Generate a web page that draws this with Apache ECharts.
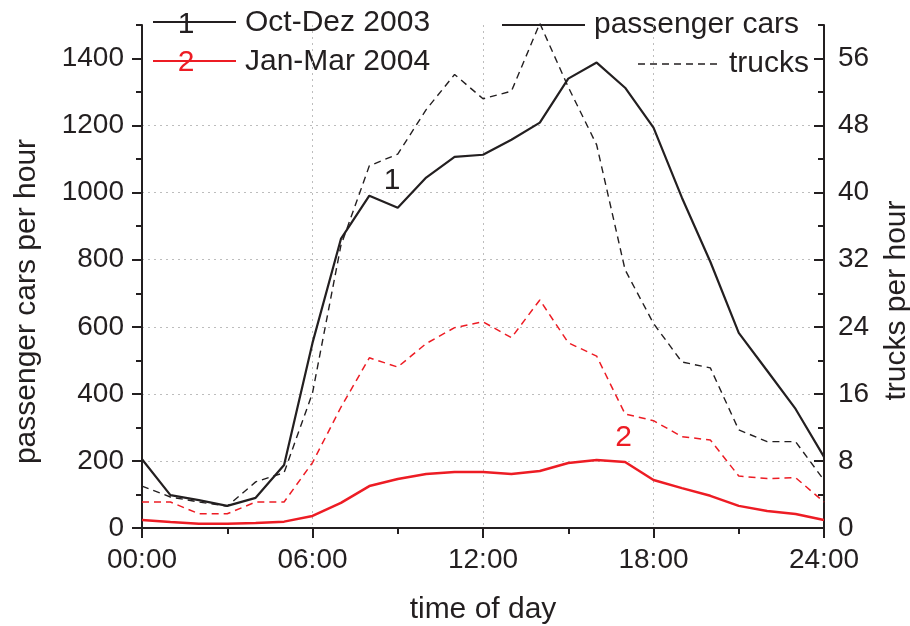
<!DOCTYPE html>
<html>
<head>
<meta charset="utf-8">
<script src="https://cdn.jsdelivr.net/npm/echarts@6/dist/echarts.min.js"></script>
<style>
  html, body { margin: 0; padding: 0; background: #fff; }
  #chart { width: 910px; height: 626px; }
</style>
</head>
<body>
<div id="chart"></div>
<script>
// hour of day
const hours = [0, 1, 2, 3, 4, 5, 6, 7, 8, 9, 10, 11, 12, 13, 14, 15, 16, 17, 18, 19, 20, 21, 22, 23, 24]
// passenger cars per hour (left axis)
const carsOctDez = [205, 98, 83, 66, 90, 188, 552, 862, 991, 955, 1045, 1107, 1113, 1158, 1209, 1340, 1388, 1313, 1194, 985, 794, 582, 469, 355, 212]
const carsJanMar = [24, 18, 13, 13, 15, 19, 36, 75, 125, 146, 161, 167, 167, 161, 170, 194, 203, 197, 143, 119, 96, 66, 51, 42, 24]
// trucks per hour (right axis)
const trucksOctDez = [5.0, 3.7, 3.1, 2.6, 5.5, 6.6, 16.1, 33.7, 43.2, 44.6, 49.9, 54.1, 51.2, 52.1, 60.2, 52.6, 45.7, 30.8, 24.4, 19.8, 19.1, 11.7, 10.3, 10.3, 5.7]
const trucksJanMar = [3.1, 3.1, 1.7, 1.7, 3.1, 3.1, 7.8, 14.4, 20.3, 19.2, 22.0, 23.9, 24.6, 22.7, 27.2, 22.1, 20.5, 13.6, 12.8, 10.9, 10.5, 6.2, 5.9, 6.0, 3.1]

const leftMajor = [0, 200, 400, 600, 800, 1000, 1200, 1400]
const rightMajor = [0, 8, 16, 24, 32, 40, 48, 56]

const BLACK = '#231f20'
const RED = '#ed1c24'
const FONT = 'Liberation Sans, Arial, Helvetica, sans-serif'

const pair = (ys) => hours.map((h, i) => [h, ys[i]])

const chart = echarts.init(document.getElementById('chart'))

const gridLine = {
  show: true,
  showMinLine: false,
  showMaxLine: false,
  lineStyle: { color: '#bdbdbd', type: [2, 4], width: 1 }
}

chart.setOption({
  animation: false,
  textStyle: { fontFamily: FONT },
  grid: { left: 142, right: 86, top: 25, bottom: 98, outerBoundsMode: 'none', containLabel: false },
  xAxis: {
    type: 'value',
    min: 0,
    max: 24,
    interval: 6,
    name: 'time of day',
    nameLocation: 'middle',
    nameGap: 67,
    nameTextStyle: { fontSize: 30, color: BLACK },
    axisLine: { lineStyle: { color: BLACK, width: 2 } },
    axisTick: { length: 10, lineStyle: { color: BLACK, width: 2 } },
    minorTick: { show: true, splitNumber: 2, length: 6, lineStyle: { color: BLACK, width: 2 } },
    axisLabel: {
      fontSize: 28,
      color: BLACK,
      margin: 18,
      formatter: (v) => String(v).padStart(2, '0') + ':00'
    },
    splitLine: gridLine
  },
  yAxis: [
    {
      type: 'value',
      position: 'left',
      min: 0,
      max: 1500,
      interval: 200,
      name: 'passenger cars per hour',
      nameLocation: 'middle',
      nameGap: 100,
      nameTextStyle: { fontSize: 30, color: BLACK, padding: [0, 50, 0, 0] },
      axisLine: { show: true, lineStyle: { color: BLACK, width: 2 } },
      axisTick: { show: true, length: 10, customValues: leftMajor, lineStyle: { color: BLACK, width: 2 } },
      axisLabel: { fontSize: 28, color: BLACK, margin: 18, customValues: leftMajor, formatter: (v) => String(v) },
      splitLine: gridLine
    },
    {
      type: 'value',
      position: 'right',
      min: 0,
      max: 60,
      interval: 8,
      name: 'trucks per hour',
      nameLocation: 'middle',
      nameGap: 58,
      nameTextStyle: { fontSize: 30, color: BLACK, padding: [0, 48, 0, 0] },
      axisLine: { show: true, lineStyle: { color: BLACK, width: 2 } },
      axisTick: { show: true, inside: true, length: 10, customValues: rightMajor, lineStyle: { color: BLACK, width: 2 } },
      axisLabel: { fontSize: 28, color: BLACK, margin: 14, customValues: rightMajor, formatter: (v) => String(v) },
      splitLine: { show: false }
    },
    // minor ticks, left
    {
      type: 'value',
      position: 'left',
      min: 0,
      max: 1500,
      interval: 100,
      axisLine: { show: false },
      axisTick: { show: true, length: 6, lineStyle: { color: BLACK, width: 2 } },
      axisLabel: { show: false },
      splitLine: { show: false }
    },
    // minor ticks, right
    {
      type: 'value',
      position: 'right',
      min: 0,
      max: 60,
      interval: 4,
      axisLine: { show: false },
      axisTick: { show: true, inside: true, length: 6, lineStyle: { color: BLACK, width: 2 } },
      axisLabel: { show: false },
      splitLine: { show: false }
    }
  ],
  series: [
    {
      name: 'passenger cars Oct-Dez 2003',
      type: 'line',
      yAxisIndex: 0,
      symbol: 'none',
      clip: false,
      lineStyle: { color: BLACK, width: 2.2 },
      data: pair(carsOctDez),
      markPoint: {
        symbol: 'circle',
        symbolSize: 1,
        itemStyle: { color: 'rgba(0,0,0,0)' },
        label: { show: true, position: 'inside', formatter: '1', fontSize: 30, color: BLACK },
        data: [{ coord: [8.8, 1035] }]
      }
    },
    {
      name: 'trucks Oct-Dez 2003',
      type: 'line',
      yAxisIndex: 1,
      symbol: 'none',
      clip: false,
      lineStyle: { color: BLACK, width: 1.4, type: [7, 5] },
      data: pair(trucksOctDez)
    },
    {
      name: 'passenger cars Jan-Mar 2004',
      type: 'line',
      yAxisIndex: 0,
      symbol: 'none',
      clip: false,
      lineStyle: { color: RED, width: 2.5 },
      data: pair(carsJanMar),
      markPoint: {
        symbol: 'circle',
        symbolSize: 1,
        itemStyle: { color: 'rgba(0,0,0,0)' },
        label: { show: true, position: 'inside', formatter: '2', fontSize: 30, color: RED },
        data: [{ coord: [16.95, 268] }]
      }
    },
    {
      name: 'trucks Jan-Mar 2004',
      type: 'line',
      yAxisIndex: 1,
      symbol: 'none',
      clip: false,
      lineStyle: { color: RED, width: 1.5, type: [7, 5] },
      data: pair(trucksJanMar)
    }
  ],
  graphic: [
    // legend: periods
    { type: 'line', shape: { x1: 153, y1: 22, x2: 236, y2: 22 }, style: { stroke: BLACK, lineWidth: 2 } },
    { type: 'text', x: 186, y: 25, style: { text: '1', font: '30px ' + FONT, fill: BLACK, align: 'center', verticalAlign: 'middle' } },
    { type: 'text', x: 245, y: 23, style: { text: 'Oct-Dez 2003', font: '30px ' + FONT, fill: BLACK, verticalAlign: 'middle' } },
    { type: 'line', shape: { x1: 153, y1: 61, x2: 236, y2: 61 }, style: { stroke: RED, lineWidth: 2 } },
    { type: 'text', x: 186, y: 63, style: { text: '2', font: '30px ' + FONT, fill: RED, align: 'center', verticalAlign: 'middle' } },
    { type: 'text', x: 245, y: 62, style: { text: 'Jan-Mar 2004', font: '30px ' + FONT, fill: BLACK, verticalAlign: 'middle' } },
    // legend: vehicle type
    { type: 'line', shape: { x1: 502, y1: 25, x2: 585, y2: 25 }, style: { stroke: BLACK, lineWidth: 2 } },
    { type: 'text', x: 594, y: 25, style: { text: 'passenger cars', font: '30px ' + FONT, fill: BLACK, verticalAlign: 'middle' } },
    { type: 'line', shape: { x1: 638, y1: 64, x2: 720, y2: 64 }, style: { stroke: BLACK, lineWidth: 1.4, lineDash: [7, 5] } },
    { type: 'text', x: 729, y: 64, style: { text: 'trucks', font: '30px ' + FONT, fill: BLACK, verticalAlign: 'middle' } }
  ]
})
</script>
</body>
</html>
